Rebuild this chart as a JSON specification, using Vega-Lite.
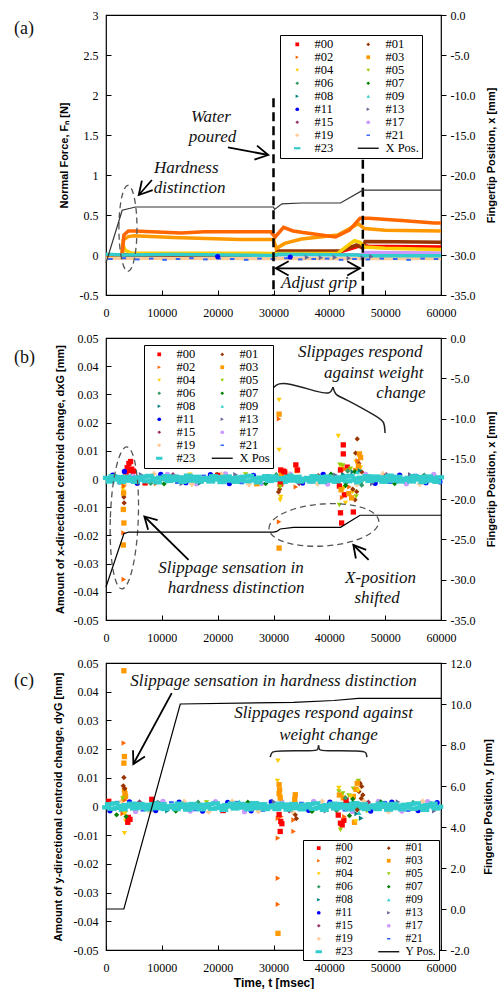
{
"$schema": "https://vega.github.io/schema/vega-lite/v6.json",
"padding": {"left": 13, "top": 8, "right": 2, "bottom": 0},
"spacing": 12,
"config": {
 "view": {"stroke": "#000", "strokeWidth": 1.2},
 "axis": {"labelFont": "Liberation Serif", "labelFontSize": 12, "labelColor": "#000", "titleFont": "Liberation Sans", "titleFontSize": 11, "titleFontWeight": "bold", "titleColor": "#000", "grid": false, "domain": false, "tickColor": "#000", "labelFlush": false, "labelOverlap": false, "titlePadding": 10},
 "text": {"font": "Liberation Serif", "fontSize": 17, "fontStyle": "italic", "color": "#111"},
 "point": {"opacity": 1}
},
"datasets": {
 "a_f": [
  {"s":"#19","t":0,"v":-0.04},{"s":"#19","t":60000,"v":-0.045},
  {"s":"#17","t":0,"v":0},{"s":"#17","t":46000,"v":0.005},{"s":"#17","t":46500,"v":0.03},{"s":"#17","t":60000,"v":0.025},
  {"s":"#00","t":0,"v":0},{"s":"#00","t":30500,"v":0},{"s":"#00","t":31000,"v":0.03},{"s":"#00","t":40000,"v":0.035},{"s":"#00","t":42000,"v":0.04},{"s":"#00","t":45800,"v":0.12},{"s":"#00","t":47000,"v":0.11},{"s":"#00","t":60000,"v":0.1},
  {"s":"#01","t":0,"v":0},{"s":"#01","t":30300,"v":0},{"s":"#01","t":30600,"v":0.05},{"s":"#01","t":42000,"v":0.05},{"s":"#01","t":44900,"v":0.125},{"s":"#01","t":46000,"v":0.085},{"s":"#01","t":46400,"v":0.17},{"s":"#01","t":52000,"v":0.165},{"s":"#01","t":60000,"v":0.16},
  {"s":"#04","t":0,"v":0},{"s":"#04","t":2900,"v":0},{"s":"#04","t":3100,"v":0.12},{"s":"#04","t":3400,"v":0.06},{"s":"#04","t":4500,"v":0.025},{"s":"#04","t":30000,"v":0.02},{"s":"#04","t":41500,"v":0.02},{"s":"#04","t":43500,"v":0.13},{"s":"#04","t":44500,"v":0.18},{"s":"#04","t":45500,"v":0.16},{"s":"#04","t":46300,"v":0.1},{"s":"#04","t":50000,"v":0.085},{"s":"#04","t":60000,"v":0.07},
  {"s":"#03","t":0,"v":0},{"s":"#03","t":2800,"v":0},{"s":"#03","t":3100,"v":0.19},{"s":"#03","t":4000,"v":0.23},{"s":"#03","t":5000,"v":0.24},{"s":"#03","t":12000,"v":0.22},{"s":"#03","t":24000,"v":0.195},{"s":"#03","t":30000,"v":0.195},{"s":"#03","t":30500,"v":0.08},{"s":"#03","t":32000,"v":0.145},{"s":"#03","t":35000,"v":0.2},{"s":"#03","t":41500,"v":0.25},{"s":"#03","t":45200,"v":0.39},{"s":"#03","t":46300,"v":0.33},{"s":"#03","t":50000,"v":0.31},{"s":"#03","t":60000,"v":0.3},
  {"s":"#02","t":0,"v":0},{"s":"#02","t":2900,"v":0},{"s":"#02","t":3200,"v":0.25},{"s":"#02","t":4000,"v":0.3},{"s":"#02","t":5000,"v":0.3},{"s":"#02","t":13500,"v":0.275},{"s":"#02","t":17600,"v":0.29},{"s":"#02","t":29500,"v":0.29},{"s":"#02","t":30300,"v":0.225},{"s":"#02","t":31800,"v":0.345},{"s":"#02","t":33500,"v":0.3},{"s":"#02","t":35300,"v":0.28},{"s":"#02","t":41100,"v":0.225},{"s":"#02","t":43600,"v":0.31},{"s":"#02","t":45500,"v":0.46},{"s":"#02","t":47100,"v":0.46},{"s":"#02","t":52900,"v":0.43},{"s":"#02","t":58800,"v":0.4},{"s":"#02","t":60000,"v":0.4},
  {"s":"#23","t":0,"v":0.01},{"s":"#23","t":3000,"v":0},{"s":"#23","t":12000,"v":0.005},{"s":"#23","t":30000,"v":-0.005},{"s":"#23","t":31000,"v":0.01},{"s":"#23","t":45000,"v":0},{"s":"#23","t":46000,"v":-0.01},{"s":"#23","t":60000,"v":-0.01}
 ],
 "a_p": [
  {"s":"#21","t":800,"v":-0.05},{"s":"#21","t":3200,"v":-0.04},{"s":"#21","t":5600,"v":-0.055},{"s":"#21","t":8100,"v":-0.045},{"s":"#21","t":10500,"v":-0.06},{"s":"#21","t":12900,"v":-0.05},{"s":"#21","t":15300,"v":-0.04},{"s":"#21","t":17800,"v":-0.055},{"s":"#21","t":20200,"v":-0.045},{"s":"#21","t":22600,"v":-0.05},{"s":"#21","t":25100,"v":-0.06},{"s":"#21","t":27500,"v":-0.045},{"s":"#21","t":29900,"v":-0.05},{"s":"#21","t":32300,"v":-0.04},{"s":"#21","t":34800,"v":-0.055},{"s":"#21","t":37200,"v":-0.05},{"s":"#21","t":39600,"v":-0.045},{"s":"#21","t":42100,"v":-0.06},{"s":"#21","t":44500,"v":-0.05},{"s":"#21","t":46900,"v":-0.055},{"s":"#21","t":49400,"v":-0.045},{"s":"#21","t":51800,"v":-0.05},{"s":"#21","t":54200,"v":-0.06},{"s":"#21","t":56700,"v":-0.045},{"s":"#21","t":59100,"v":-0.05},
  {"s":"#13","t":36000,"v":-0.03},{"s":"#13","t":38500,"v":-0.035},{"s":"#13","t":41000,"v":-0.03},{"s":"#13","t":43500,"v":-0.04},{"s":"#13","t":46000,"v":-0.035},{"s":"#13","t":47500,"v":-0.02},
  {"s":"#11","t":20000,"v":-0.02},{"s":"#11","t":33000,"v":-0.025}
 ],
 "a_x": [{"t":0,"p":-31.0},{"t":2900,"p":-24.4},{"t":5300,"p":-24.0},{"t":30000,"p":-24.0},{"t":30200,"p":-24.3},{"t":31500,"p":-23.6},{"t":35000,"p":-23.5},{"t":42000,"p":-23.5},{"t":46000,"p":-21.9},{"t":60000,"p":-21.9}],
 "b_x": [{"t":0,"p":-30.9},{"t":3200,"p":-24.3},{"t":4000,"p":-24.1},{"t":30000,"p":-24.1},{"t":30600,"p":-24.0},{"t":31200,"p":-23.7},{"t":33600,"p":-23.5},{"t":42000,"p":-23.5},{"t":45500,"p":-22.0},{"t":60000,"p":-22.0}],
 "c_x": [{"t":0,"p":0},{"t":3200,"p":0},{"t":13300,"p":10.0},{"t":33600,"p":10.08},{"t":40800,"p":10.17},{"t":45200,"p":10.27},{"t":60000,"p":10.27}],
 "b_p": [
  {"s":"#11","t":1200,"v":0.0014},{"s":"#11","t":5600,"v":-0.0015},{"s":"#11","t":9800,"v":0.0016},{"s":"#11","t":14300,"v":-0.0013},{"s":"#11","t":18700,"v":0.0015},{"s":"#11","t":22100,"v":-0.0016},{"s":"#11","t":26400,"v":0.0013},{"s":"#11","t":35200,"v":-0.0014},{"s":"#11","t":38900,"v":0.0016},{"s":"#11","t":48200,"v":-0.0015},{"s":"#11","t":52600,"v":0.0014},{"s":"#11","t":57300,"v":-0.0013},{"s":"#11","t":59800,"v":-0.001},
  {"s":"#21","t":2600,"v":-0.0016},{"s":"#21","t":7400,"v":0.0013},{"s":"#21","t":12800,"v":-0.0014},{"s":"#21","t":17500,"v":0.0012},{"s":"#21","t":24300,"v":-0.0015},{"s":"#21","t":29000,"v":0.0014},{"s":"#21","t":36800,"v":-0.0012},{"s":"#21","t":43700,"v":0.0012},{"s":"#21","t":50900,"v":-0.0014},{"s":"#21","t":55400,"v":0.0015},
  {"s":"#17","t":4800,"v":0.0017},{"s":"#17","t":11000,"v":0.0016},{"s":"#17","t":16200,"v":-0.0017},{"s":"#17","t":21400,"v":0.0018},{"s":"#17","t":27800,"v":-0.0016},{"s":"#17","t":33000,"v":0.0017},{"s":"#17","t":39700,"v":-0.0018},{"s":"#17","t":46500,"v":0.0016},{"s":"#17","t":53800,"v":-0.0017},{"s":"#17","t":58700,"v":0.0016},
  {"s":"#19","t":3300,"v":-0.0019},{"s":"#19","t":8600,"v":0.0018},{"s":"#19","t":15400,"v":-0.0018},{"s":"#19","t":20700,"v":0.0017},{"s":"#19","t":25600,"v":-0.0019},{"s":"#19","t":32500,"v":0.0019},{"s":"#19","t":37900,"v":-0.0017},{"s":"#19","t":44900,"v":-0.0019},{"s":"#19","t":49600,"v":0.0018},{"s":"#19","t":56200,"v":-0.0018},
  {"s":"#13","t":6300,"v":0.0015},{"s":"#13","t":13600,"v":-0.0016},{"s":"#13","t":23200,"v":0.0015},{"s":"#13","t":31800,"v":-0.0015},{"s":"#13","t":41100,"v":0.0014},{"s":"#13","t":47700,"v":-0.0016},{"s":"#13","t":54500,"v":0.0015},
  {"s":"#07","t":10400,"v":-0.0017},{"s":"#07","t":19900,"v":0.0016},{"s":"#07","t":28600,"v":-0.0016},{"s":"#07","t":40300,"v":0.0017},{"s":"#07","t":51700,"v":-0.0016},
  {"s":"#06","t":8000,"v":-0.0015},{"s":"#06","t":30500,"v":0.0015},{"s":"#06","t":43000,"v":-0.0014},{"s":"#06","t":57000,"v":0.0014},
  {"s":"#15","t":12000,"v":0.0015},{"s":"#15","t":34600,"v":-0.0016},{"s":"#15","t":50200,"v":0.0015},
  {"s":"#08","t":16900,"v":-0.0014},{"s":"#08","t":42500,"v":0.0016},
  {"s":"#05","t":25000,"v":0.0016},{"s":"#05","t":45800,"v":-0.0013},
  {"s":"#00","t":7000,"v":-0.0014},{"s":"#00","t":20000,"v":0.0013},
  {"s":"#02","t":9000,"v":-0.0016},{"s":"#04","t":15000,"v":0.0015},{"s":"#03","t":27000,"v":-0.0017},{"s":"#01","t":38000,"v":0.0012},
  {"s":"#23","t":250,"v":0.0004},{"s":"#23","t":750,"v":-0.0009},{"s":"#23","t":1250,"v":0.001},{"s":"#23","t":1750,"v":-0.0002},{"s":"#23","t":2250,"v":0.0007},{"s":"#23","t":2750,"v":-0.0011},{"s":"#23","t":3250,"v":0.0001},{"s":"#23","t":3750,"v":0.0009},{"s":"#23","t":4250,"v":-0.0006},{"s":"#23","t":4750,"v":0.0003},{"s":"#23","t":5250,"v":-0.001},{"s":"#23","t":5750,"v":0.0006},
  {"s":"#23","t":6250,"v":-0.0003},{"s":"#23","t":6750,"v":0.0008},{"s":"#23","t":7250,"v":-0.0008},{"s":"#23","t":7750,"v":0.0011},{"s":"#23","t":8250,"v":-0.0005},{"s":"#23","t":8750,"v":0.0002},{"s":"#23","t":9250,"v":-0.0012},{"s":"#23","t":9750,"v":0.0005},{"s":"#23","t":10250,"v":0},{"s":"#23","t":10750,"v":0.001},{"s":"#23","t":11250,"v":-0.0007},{"s":"#23","t":11750,"v":-0.0001},
  {"s":"#23","t":12250,"v":0.0009},{"s":"#23","t":12750,"v":-0.0004},{"s":"#23","t":13250,"v":0.0006},{"s":"#23","t":13750,"v":-0.001},{"s":"#23","t":14250,"v":-0.0001},{"s":"#23","t":14750,"v":0.0012},{"s":"#23","t":15250,"v":-0.0006},{"s":"#23","t":15750,"v":0.0003},{"s":"#23","t":16250,"v":0.0008},{"s":"#23","t":16750,"v":-0.0009},{"s":"#23","t":17250,"v":0.0001},{"s":"#23","t":17750,"v":-0.0003},
  {"s":"#23","t":18250,"v":0.0004},{"s":"#23","t":18750,"v":-0.0009},{"s":"#23","t":19250,"v":0.001},{"s":"#23","t":19750,"v":-0.0002},{"s":"#23","t":20250,"v":0.0007},{"s":"#23","t":20750,"v":-0.0011},{"s":"#23","t":21250,"v":0.0001},{"s":"#23","t":21750,"v":0.0009},{"s":"#23","t":22250,"v":-0.0006},{"s":"#23","t":22750,"v":0.0003},{"s":"#23","t":23250,"v":-0.001},{"s":"#23","t":23750,"v":0.0006},
  {"s":"#23","t":24250,"v":-0.0003},{"s":"#23","t":24750,"v":0.0008},{"s":"#23","t":25250,"v":-0.0008},{"s":"#23","t":25750,"v":0.0011},{"s":"#23","t":26250,"v":-0.0005},{"s":"#23","t":26750,"v":0.0002},{"s":"#23","t":27250,"v":-0.0012},{"s":"#23","t":27750,"v":0.0005},{"s":"#23","t":28250,"v":0},{"s":"#23","t":28750,"v":0.001},{"s":"#23","t":29250,"v":-0.0007},{"s":"#23","t":29750,"v":-0.0001},
  {"s":"#23","t":30250,"v":0.0009},{"s":"#23","t":30750,"v":-0.0004},{"s":"#23","t":31250,"v":0.0006},{"s":"#23","t":31750,"v":-0.001},{"s":"#23","t":32250,"v":-0.0001},{"s":"#23","t":32750,"v":0.0012},{"s":"#23","t":33250,"v":-0.0006},{"s":"#23","t":33750,"v":0.0003},{"s":"#23","t":34250,"v":0.0008},{"s":"#23","t":34750,"v":-0.0009},{"s":"#23","t":35250,"v":0.0001},{"s":"#23","t":35750,"v":-0.0003},
  {"s":"#23","t":36250,"v":0.0004},{"s":"#23","t":36750,"v":-0.0009},{"s":"#23","t":37250,"v":0.001},{"s":"#23","t":37750,"v":-0.0002},{"s":"#23","t":38250,"v":0.0007},{"s":"#23","t":38750,"v":-0.0011},{"s":"#23","t":39250,"v":0.0001},{"s":"#23","t":39750,"v":0.0009},{"s":"#23","t":40250,"v":-0.0006},{"s":"#23","t":40750,"v":0.0003},{"s":"#23","t":41250,"v":-0.001},{"s":"#23","t":41750,"v":0.0006},
  {"s":"#23","t":42250,"v":-0.0003},{"s":"#23","t":42750,"v":0.0008},{"s":"#23","t":43250,"v":-0.0008},{"s":"#23","t":43750,"v":0.0011},{"s":"#23","t":44250,"v":-0.0005},{"s":"#23","t":44750,"v":0.0002},{"s":"#23","t":45250,"v":-0.0012},{"s":"#23","t":45750,"v":0.0005},{"s":"#23","t":46250,"v":0},{"s":"#23","t":46750,"v":0.001},{"s":"#23","t":47250,"v":-0.0007},{"s":"#23","t":47750,"v":-0.0001},
  {"s":"#23","t":48250,"v":0.0009},{"s":"#23","t":48750,"v":-0.0004},{"s":"#23","t":49250,"v":0.0006},{"s":"#23","t":49750,"v":-0.001},{"s":"#23","t":50250,"v":-0.0001},{"s":"#23","t":50750,"v":0.0012},{"s":"#23","t":51250,"v":-0.0006},{"s":"#23","t":51750,"v":0.0003},{"s":"#23","t":52250,"v":0.0008},{"s":"#23","t":52750,"v":-0.0009},{"s":"#23","t":53250,"v":0.0001},{"s":"#23","t":53750,"v":-0.0003},
  {"s":"#23","t":54250,"v":0.0004},{"s":"#23","t":54750,"v":-0.0009},{"s":"#23","t":55250,"v":0.001},{"s":"#23","t":55750,"v":-0.0002},{"s":"#23","t":56250,"v":0.0007},{"s":"#23","t":56750,"v":-0.0011},{"s":"#23","t":57250,"v":0.0001},{"s":"#23","t":57750,"v":0.0009},{"s":"#23","t":58250,"v":-0.0006},{"s":"#23","t":58750,"v":0.0003},{"s":"#23","t":59250,"v":-0.001},{"s":"#23","t":59750,"v":0.0006},
  {"s":"#00","t":3800,"v":0.004},{"s":"#00","t":4100,"v":0.0055},{"s":"#00","t":4400,"v":0.0062},{"s":"#00","t":4600,"v":0.0035},{"s":"#00","t":4900,"v":0.0028},{"s":"#00","t":3600,"v":0.0025},{"s":"#00","t":4200,"v":0.003},
  {"s":"#11","t":3300,"v":0.0027},
  {"s":"#04","t":3100,"v":-0.0028},{"s":"#04","t":3150,"v":-0.0045},{"s":"#04","t":3200,"v":-0.011},{"s":"#04","t":3050,"v":-0.0035},
  {"s":"#01","t":3200,"v":-0.0064},{"s":"#01","t":3250,"v":-0.0085},{"s":"#01","t":3150,"v":-0.0052},
  {"s":"#02","t":3150,"v":-0.0191},{"s":"#02","t":3200,"v":-0.0356},{"s":"#02","t":3250,"v":-0.0025},
  {"s":"#03","t":3100,"v":-0.0234},{"s":"#03","t":3200,"v":-0.0156},{"s":"#03","t":3100,"v":-0.0108},{"s":"#03","t":3150,"v":-0.005},
  {"s":"#04","t":31000,"v":0.028},{"s":"#04","t":31000,"v":0.0103},{"s":"#04","t":31300,"v":-0.0064},{"s":"#04","t":31200,"v":-0.0075},{"s":"#04","t":31100,"v":-0.003},
  {"s":"#03","t":31000,"v":0.023},{"s":"#03","t":31000,"v":-0.0245},{"s":"#03","t":31400,"v":0.002},{"s":"#03","t":34200,"v":0.003},
  {"s":"#02","t":31000,"v":0.0213},{"s":"#02","t":31000,"v":-0.0152},{"s":"#02","t":34000,"v":-0.0028},{"s":"#02","t":31500,"v":-0.0022},
  {"s":"#00","t":31300,"v":0.0032},{"s":"#00","t":31800,"v":0.0028},{"s":"#00","t":34000,"v":0.005},{"s":"#00","t":34300,"v":0.0032},{"s":"#00","t":32000,"v":0.0025},{"s":"#00","t":31200,"v":-0.0018},
  {"s":"#01","t":30900,"v":-0.0046},{"s":"#01","t":31100,"v":-0.0036},{"s":"#05","t":31200,"v":-0.0028},
  {"s":"#04","t":41600,"v":0.0152},{"s":"#04","t":42300,"v":0.0045},{"s":"#04","t":42600,"v":-0.0032},{"s":"#04","t":42900,"v":-0.0085},{"s":"#04","t":44800,"v":0.006},{"s":"#04","t":45600,"v":0.004},{"s":"#04","t":42000,"v":0.0035},{"s":"#04","t":44200,"v":-0.0046},
  {"s":"#00","t":42500,"v":0.0121},{"s":"#00","t":42500,"v":0.0089},{"s":"#00","t":42000,"v":0.0032},{"s":"#00","t":43200,"v":0.0042},{"s":"#00","t":44300,"v":-0.0117},{"s":"#00","t":42200,"v":-0.0156},{"s":"#00","t":42000,"v":-0.012},{"s":"#00","t":42700,"v":-0.0056},{"s":"#00","t":41800,"v":-0.0025},
  {"s":"#01","t":45000,"v":0.0142},{"s":"#01","t":44700,"v":0.0092},{"s":"#01","t":45300,"v":0.0055},{"s":"#01","t":45800,"v":0.0025},{"s":"#01","t":44600,"v":-0.0074},{"s":"#01","t":44900,"v":-0.0045},{"s":"#01","t":44200,"v":-0.0036},
  {"s":"#03","t":45400,"v":0.0089},{"s":"#03","t":45600,"v":0.0076},{"s":"#03","t":45200,"v":0.0046},{"s":"#03","t":43500,"v":-0.0052},{"s":"#03","t":44000,"v":-0.0067},{"s":"#03","t":42100,"v":-0.0038},{"s":"#03","t":44700,"v":0.003},
  {"s":"#05","t":41900,"v":0.005},{"s":"#05","t":42400,"v":0.0048},{"s":"#05","t":43100,"v":0.003},{"s":"#05","t":41800,"v":-0.0092},{"s":"#05","t":44800,"v":-0.0062},{"s":"#05","t":43800,"v":0.0036},
  {"s":"#02","t":42800,"v":0.0035},{"s":"#02","t":43600,"v":-0.0028},{"s":"#02","t":45100,"v":0.0065},{"s":"#02","t":42300,"v":-0.0066},
  {"s":"#08","t":45500,"v":0.003},{"s":"#08","t":44200,"v":0.0025},{"s":"#06","t":43300,"v":0.0028},{"s":"#06","t":45800,"v":-0.0022},{"s":"#07","t":44600,"v":0.0026},{"s":"#07","t":42900,"v":-0.0023},{"s":"#09","t":45000,"v":0.0025}
 ],
 "c_p": [
  {"s":"#11","t":700,"v":-0.0015},{"s":"#11","t":4200,"v":0.0016},{"s":"#11","t":8900,"v":-0.0014},{"s":"#11","t":13100,"v":0.0015},{"s":"#11","t":17300,"v":-0.0016},{"s":"#11","t":21800,"v":0.0014},{"s":"#11","t":26000,"v":-0.0015},{"s":"#11","t":29600,"v":0.0016},{"s":"#11","t":36300,"v":-0.0013},{"s":"#11","t":40100,"v":0.0015},{"s":"#11","t":47400,"v":-0.0016},{"s":"#11","t":51200,"v":0.0015},{"s":"#11","t":55900,"v":-0.0014},{"s":"#11","t":59300,"v":0.0013},
  {"s":"#21","t":2000,"v":0.0016},{"s":"#21","t":6600,"v":-0.0014},{"s":"#21","t":11700,"v":0.0015},{"s":"#21","t":16000,"v":-0.0013},{"s":"#21","t":23400,"v":0.0016},{"s":"#21","t":28100,"v":-0.0015},{"s":"#21","t":35000,"v":0.0013},{"s":"#21","t":42800,"v":-0.0014},{"s":"#21","t":49900,"v":0.0016},{"s":"#21","t":54100,"v":-0.0015},{"s":"#21","t":58000,"v":0.0014},
  {"s":"#17","t":5300,"v":-0.0017},{"s":"#17","t":10200,"v":0.0018},{"s":"#17","t":15100,"v":-0.0016},{"s":"#17","t":19600,"v":0.0017},{"s":"#17","t":24800,"v":-0.0018},{"s":"#17","t":31500,"v":0.0016},{"s":"#17","t":37200,"v":0.0018},{"s":"#17","t":44100,"v":-0.0017},{"s":"#17","t":48800,"v":0.0018},{"s":"#17","t":53000,"v":-0.0016},{"s":"#17","t":57600,"v":0.0017},
  {"s":"#19","t":2800,"v":0.0019},{"s":"#19","t":7900,"v":-0.0018},{"s":"#19","t":14000,"v":0.0017},{"s":"#19","t":18400,"v":-0.0019},{"s":"#19","t":22600,"v":0.0018},{"s":"#19","t":27300,"v":-0.0017},{"s":"#19","t":33400,"v":-0.0019},{"s":"#19","t":38700,"v":0.0018},{"s":"#19","t":46200,"v":0.0019},{"s":"#19","t":50600,"v":-0.0018},{"s":"#19","t":56700,"v":0.0018},
  {"s":"#13","t":9500,"v":0.0015},{"s":"#13","t":20900,"v":-0.0015},{"s":"#13","t":30100,"v":0.0016},{"s":"#13","t":39400,"v":-0.0015},{"s":"#13","t":52300,"v":0.0016},{"s":"#13","t":58800,"v":-0.0015},
  {"s":"#07","t":12500,"v":-0.0016},{"s":"#07","t":25400,"v":0.0015},{"s":"#07","t":36900,"v":-0.0017},{"s":"#07","t":49200,"v":0.0016},
  {"s":"#06","t":16500,"v":0.0015},{"s":"#06","t":41300,"v":-0.0015},{"s":"#06","t":55000,"v":0.0014},
  {"s":"#15","t":6000,"v":0.0016},{"s":"#15","t":32800,"v":-0.0015},{"s":"#15","t":47000,"v":0.0015},
  {"s":"#08","t":11000,"v":-0.0015},{"s":"#08","t":43400,"v":0.0014},{"s":"#09","t":23900,"v":0.0016},
  {"s":"#00","t":500,"v":0.0018},{"s":"#00","t":21000,"v":-0.0014},
  {"s":"#05","t":18000,"v":0.0014},{"s":"#05","t":46700,"v":-0.0016},
  {"s":"#23","t":100,"v":-0.0003},{"s":"#23","t":600,"v":0.0008},{"s":"#23","t":1100,"v":-0.0008},{"s":"#23","t":1600,"v":0.0011},{"s":"#23","t":2100,"v":-0.0005},{"s":"#23","t":2600,"v":0.0002},{"s":"#23","t":3100,"v":-0.0012},{"s":"#23","t":3600,"v":0.0005},{"s":"#23","t":4100,"v":0},{"s":"#23","t":4600,"v":0.001},{"s":"#23","t":5100,"v":-0.0007},{"s":"#23","t":5600,"v":-0.0001},
  {"s":"#23","t":6100,"v":0.0009},{"s":"#23","t":6600,"v":-0.0004},{"s":"#23","t":7100,"v":0.0006},{"s":"#23","t":7600,"v":-0.001},{"s":"#23","t":8100,"v":-0.0001},{"s":"#23","t":8600,"v":0.0012},{"s":"#23","t":9100,"v":-0.0006},{"s":"#23","t":9600,"v":0.0003},{"s":"#23","t":10100,"v":0.0008},{"s":"#23","t":10600,"v":-0.0009},{"s":"#23","t":11100,"v":0.0001},{"s":"#23","t":11600,"v":-0.0003},
  {"s":"#23","t":12100,"v":0.0004},{"s":"#23","t":12600,"v":-0.0009},{"s":"#23","t":13100,"v":0.001},{"s":"#23","t":13600,"v":-0.0002},{"s":"#23","t":14100,"v":0.0007},{"s":"#23","t":14600,"v":-0.0011},{"s":"#23","t":15100,"v":0.0001},{"s":"#23","t":15600,"v":0.0009},{"s":"#23","t":16100,"v":-0.0006},{"s":"#23","t":16600,"v":0.0003},{"s":"#23","t":17100,"v":-0.001},{"s":"#23","t":17600,"v":0.0006},
  {"s":"#23","t":18100,"v":-0.0003},{"s":"#23","t":18600,"v":0.0008},{"s":"#23","t":19100,"v":-0.0008},{"s":"#23","t":19600,"v":0.0011},{"s":"#23","t":20100,"v":-0.0005},{"s":"#23","t":20600,"v":0.0002},{"s":"#23","t":21100,"v":-0.0012},{"s":"#23","t":21600,"v":0.0005},{"s":"#23","t":22100,"v":0},{"s":"#23","t":22600,"v":0.001},{"s":"#23","t":23100,"v":-0.0007},{"s":"#23","t":23600,"v":-0.0001},
  {"s":"#23","t":24100,"v":0.0009},{"s":"#23","t":24600,"v":-0.0004},{"s":"#23","t":25100,"v":0.0006},{"s":"#23","t":25600,"v":-0.001},{"s":"#23","t":26100,"v":-0.0001},{"s":"#23","t":26600,"v":0.0012},{"s":"#23","t":27100,"v":-0.0006},{"s":"#23","t":27600,"v":0.0003},{"s":"#23","t":28100,"v":0.0008},{"s":"#23","t":28600,"v":-0.0009},{"s":"#23","t":29100,"v":0.0001},{"s":"#23","t":29600,"v":-0.0003},
  {"s":"#23","t":30100,"v":0.0004},{"s":"#23","t":30600,"v":-0.0009},{"s":"#23","t":31100,"v":0.001},{"s":"#23","t":31600,"v":-0.0002},{"s":"#23","t":32100,"v":0.0007},{"s":"#23","t":32600,"v":-0.0011},{"s":"#23","t":33100,"v":0.0001},{"s":"#23","t":33600,"v":0.0009},{"s":"#23","t":34100,"v":-0.0006},{"s":"#23","t":34600,"v":0.0003},{"s":"#23","t":35100,"v":-0.001},{"s":"#23","t":35600,"v":0.0006},
  {"s":"#23","t":36100,"v":-0.0003},{"s":"#23","t":36600,"v":0.0008},{"s":"#23","t":37100,"v":-0.0008},{"s":"#23","t":37600,"v":0.0011},{"s":"#23","t":38100,"v":-0.0005},{"s":"#23","t":38600,"v":0.0002},{"s":"#23","t":39100,"v":-0.0012},{"s":"#23","t":39600,"v":0.0005},{"s":"#23","t":40100,"v":0},{"s":"#23","t":40600,"v":0.001},{"s":"#23","t":41100,"v":-0.0007},{"s":"#23","t":41600,"v":-0.0001},
  {"s":"#23","t":42100,"v":0.0009},{"s":"#23","t":42600,"v":-0.0004},{"s":"#23","t":43100,"v":0.0006},{"s":"#23","t":43600,"v":-0.001},{"s":"#23","t":44100,"v":-0.0001},{"s":"#23","t":44600,"v":0.0012},{"s":"#23","t":45100,"v":-0.0006},{"s":"#23","t":45600,"v":0.0003},{"s":"#23","t":46100,"v":0.0008},{"s":"#23","t":46600,"v":-0.0009},{"s":"#23","t":47100,"v":0.0001},{"s":"#23","t":47600,"v":-0.0003},
  {"s":"#23","t":48100,"v":0.0004},{"s":"#23","t":48600,"v":-0.0009},{"s":"#23","t":49100,"v":0.001},{"s":"#23","t":49600,"v":-0.0002},{"s":"#23","t":50100,"v":0.0007},{"s":"#23","t":50600,"v":-0.0011},{"s":"#23","t":51100,"v":0.0001},{"s":"#23","t":51600,"v":0.0009},{"s":"#23","t":52100,"v":-0.0006},{"s":"#23","t":52600,"v":0.0003},{"s":"#23","t":53100,"v":-0.001},{"s":"#23","t":53600,"v":0.0006},
  {"s":"#23","t":54100,"v":-0.0003},{"s":"#23","t":54600,"v":0.0008},{"s":"#23","t":55100,"v":-0.0008},{"s":"#23","t":55600,"v":0.0011},{"s":"#23","t":56100,"v":-0.0005},{"s":"#23","t":56600,"v":0.0002},{"s":"#23","t":57100,"v":-0.0012},{"s":"#23","t":57600,"v":0.0005},{"s":"#23","t":58100,"v":0},{"s":"#23","t":58600,"v":0.001},{"s":"#23","t":59100,"v":-0.0007},{"s":"#23","t":59600,"v":-0.0001},
  {"s":"#03","t":3200,"v":0.0473},{"s":"#03","t":3300,"v":0.0174},{"s":"#03","t":3200,"v":0.0151},{"s":"#03","t":3300,"v":0.0058},{"s":"#03","t":3400,"v":0.0045},{"s":"#03","t":3250,"v":0.0029},{"s":"#03","t":3500,"v":0.0035},
  {"s":"#02","t":3200,"v":0.0221},{"s":"#02","t":3400,"v":0.0022},{"s":"#02","t":3000,"v":-0.0025},
  {"s":"#01","t":3200,"v":0.0101},{"s":"#01","t":3100,"v":0.0072},{"s":"#01","t":3350,"v":0.0062},
  {"s":"#04","t":3500,"v":-0.005},{"s":"#04","t":3300,"v":-0.0093},{"s":"#04","t":3800,"v":-0.0042},{"s":"#04","t":3400,"v":-0.0025},
  {"s":"#00","t":4000,"v":-0.0038},{"s":"#00","t":4300,"v":-0.0045},{"s":"#00","t":3900,"v":-0.0055},{"s":"#00","t":8200,"v":0.0025},
  {"s":"#07","t":1900,"v":-0.0029},{"s":"#07","t":3600,"v":-0.0035},{"s":"#05","t":3000,"v":0.0028},
  {"s":"#04","t":30800,"v":0.0159},{"s":"#04","t":30700,"v":0.0089},{"s":"#04","t":31300,"v":0.0035},
  {"s":"#03","t":31000,"v":0.0076},{"s":"#03","t":31100,"v":0.0058},{"s":"#03","t":31000,"v":0.0045},{"s":"#03","t":31200,"v":0.0029},{"s":"#03","t":30800,"v":-0.0442},{"s":"#03","t":33900,"v":0.0041},{"s":"#03","t":33800,"v":0.0025},
  {"s":"#02","t":30800,"v":-0.0041},{"s":"#02","t":30800,"v":-0.011},{"s":"#02","t":30800,"v":-0.025},{"s":"#02","t":30800,"v":-0.0341},{"s":"#02","t":33600,"v":-0.0087},{"s":"#02","t":33600,"v":-0.0047},{"s":"#02","t":31400,"v":-0.0035},
  {"s":"#00","t":31200,"v":-0.0087},{"s":"#00","t":31300,"v":-0.0052},{"s":"#00","t":31000,"v":-0.0028},{"s":"#00","t":31500,"v":-0.006},
  {"s":"#01","t":33900,"v":-0.0029},{"s":"#01","t":34100,"v":-0.0042},
  {"s":"#05","t":45200,"v":0.0089},{"s":"#05","t":41700,"v":0.0052},{"s":"#05","t":42400,"v":0.0045},{"s":"#05","t":43500,"v":0.0038},{"s":"#05","t":42000,"v":-0.0081},{"s":"#05","t":44300,"v":0.0062},{"s":"#05","t":41900,"v":-0.0062},
  {"s":"#01","t":45500,"v":0.0081},{"s":"#01","t":45800,"v":0.007},{"s":"#01","t":45300,"v":0.0052},{"s":"#01","t":46000,"v":0.004},{"s":"#01","t":45000,"v":-0.0012},{"s":"#01","t":45700,"v":0.0028},
  {"s":"#03","t":45000,"v":0.0081},{"s":"#03","t":44800,"v":0.006},{"s":"#03","t":44300,"v":0.0035},{"s":"#03","t":42500,"v":0.003},{"s":"#03","t":44500,"v":-0.0055},{"s":"#03","t":41800,"v":0.004},
  {"s":"#04","t":41700,"v":0.0064},{"s":"#04","t":43900,"v":0.0035},{"s":"#04","t":44700,"v":-0.0052},{"s":"#04","t":45200,"v":0.0055},{"s":"#04","t":42800,"v":0.0025},
  {"s":"#00","t":42300,"v":-0.0064},{"s":"#00","t":42000,"v":-0.0058},{"s":"#00","t":42600,"v":-0.0048},{"s":"#00","t":41600,"v":-0.003},{"s":"#00","t":43000,"v":0.0022},
  {"s":"#08","t":45700,"v":-0.0041},{"s":"#08","t":44900,"v":-0.0025},{"s":"#07","t":43600,"v":-0.0032},{"s":"#07","t":44200,"v":0.0026},{"s":"#06","t":42900,"v":0.003},{"s":"#09","t":45300,"v":-0.0022},{"s":"#02","t":42700,"v":-0.0035}
 ]
},
"vconcat": [
 {
  "width": 335, "height": 280,
  "encoding": {"x": {"field": "t", "type": "quantitative", "scale": {"domain": [0, 60000], "nice": false}, "axis": {"values": [0,10000,20000,30000,40000,50000,60000], "format": "d", "title": null, "tickSize": -5, "labelPadding": 17}}},
  "layer": [
   {
    "encoding": {"y": {"field": "v", "type": "quantitative", "scale": {"domain": [-0.5, 3], "nice": false, "zero": false}, "axis": {"values": [-0.5,0,0.5,1,1.5,2,2.5,3], "format": "~g", "labelExpr": "replace(datum.label, '−', '-')", "title": "Normal Force,  Fₙ [N]", "tickSize": -5, "labelPadding": 13}}},
    "layer": [
     {"data": {"name": "a_f"}, "mark": {"type": "line", "strokeWidth": 3.5}, "encoding": {"stroke": {"field": "s", "type": "nominal", "scale": {"domain": ["#19","#17","#00","#01","#04","#03","#02","#23"], "range": ["#ffcc99","#cc99ff","#ff0000","#993300","#ffcc00","#ff9900","#ff6600","#33cccc"]}, "legend": null}}},
     {"data": {"name": "a_p"}, "mark": {"type": "point", "filled": true, "size": 26, "opacity": 1},
      "encoding": {
       "color": {"field": "s", "type": "nominal", "scale": {"domain": ["#00","#01","#02","#03","#04","#05","#06","#07","#08","#09","#11","#13","#15","#17","#19","#21","#23","X Pos."], "range": ["#ff0000","#993300","#ff6600","#ff9900","#ffcc00","#99cc00","#339966","#008000","#008080","#33cccc","#0000ff","#666699","#993366","#cc99ff","#ffcc99","#3366ff","#33cccc","#000000"]}, "legend": {"title": null, "orient": "none", "legendX": 174, "legendY": 20, "columns": 2, "direction": "horizontal", "strokeColor": "#000", "fillColor": "#fff", "padding": 3, "labelFont": "Liberation Serif", "labelFontSize": 12.5, "labelColor": "#000", "symbolSize": 14, "symbolOffset": 8, "labelOffset": 11, "columnPadding": 20, "rowPadding": 0}},
       "shape": {"field": "s", "type": "nominal", "scale": {"domain": ["#00","#01","#02","#03","#04","#05","#06","#07","#08","#09","#11","#13","#15","#17","#19","#21","#23","X Pos."], "range": ["square","diamond","triangle-right","square","triangle-down","triangle-down","diamond","diamond","triangle-right","triangle-up","circle","triangle-right","diamond","circle","cross","M-0.9,-0.4H0.9V0.4H-0.9Z","M-1.7,-0.6H1.7V0.6H-1.7Z","M-5.6,-0.35H5.6V0.35H-5.6Z"]}, "legend": {"title": null, "orient": "none", "legendX": 174, "legendY": 20, "columns": 2, "direction": "horizontal", "strokeColor": "#000", "fillColor": "#fff", "padding": 3, "labelFont": "Liberation Serif", "labelFontSize": 12.5, "labelColor": "#000", "symbolSize": 14, "symbolOffset": 8, "labelOffset": 11, "columnPadding": 20, "rowPadding": 0}}
      }},
     {"data": {"values": [{"t": 30000, "v": 1.96, "v2": -0.5}, {"t": 46000, "v": 1.19, "v2": -0.5}]}, "mark": {"type": "rule", "color": "#000", "strokeWidth": 2.5, "strokeDash": [9, 5]}, "encoding": {"y2": {"field": "v2"}}},
     {"data": {"values": [{"g": "w", "t": 21839, "v": 1.346}, {"g": "w", "t": 29061, "v": 1.25}, {"g": "h", "t": 8219, "v": 0.9375}, {"g": "h", "t": 5871, "v": 0.75}, {"g": "j", "t": 30411, "v": -0.167}, {"g": "j", "t": 45499, "v": -0.167}]}, "mark": {"type": "line", "color": "#000", "strokeWidth": 1.8}, "encoding": {"detail": {"field": "g"}}},
     {"data": {"values": [{"t": 29061, "v": 1.25}]}, "mark": {"type": "point", "shape": "M-1.6,-0.9L0,0L-1.6,0.9", "size": 256, "filled": false, "color": "#000", "strokeWidth": 1.8, "opacity": 1, "angle": 10.6}},
     {"data": {"values": [{"t": 5871, "v": 0.75}]}, "mark": {"type": "point", "shape": "M-1.6,-0.9L0,0L-1.6,0.9", "size": 256, "filled": false, "color": "#000", "strokeWidth": 1.8, "opacity": 1, "angle": 131.6}},
     {"data": {"values": [{"t": 30411, "v": -0.167}]}, "mark": {"type": "point", "shape": "M-1.6,-0.9L0,0L-1.6,0.9", "size": 256, "filled": false, "color": "#000", "strokeWidth": 1.8, "opacity": 1, "angle": 180}},
     {"data": {"values": [{"t": 45499, "v": -0.167}]}, "mark": {"type": "point", "shape": "M-1.6,-0.9L0,0L-1.6,0.9", "size": 256, "filled": false, "color": "#000", "strokeWidth": 1.8, "opacity": 1, "angle": 0}},
     {"data": {"values": [{"t": 3933, "v": 0.333}]}, "mark": {"type": "point", "shape": "M-0.21,0C-0.21,-0.552,-0.116,-1,0,-1C0.116,-1,0.21,-0.552,0.21,0C0.21,0.552,0.116,1,0,1C-0.116,1,-0.21,0.552,-0.21,0Z", "size": 7396, "filled": false, "color": "#555", "strokeWidth": 1.3, "strokeDash": [6, 4], "opacity": 1}},
     {"data": {"values": [{"t": 18787, "v": 1.729, "txt": "Water"}, {"t": 19080, "v": 1.479, "txt": "poured"}, {"t": 14384, "v": 1.083, "txt": "Hardness"}, {"t": 14971, "v": 0.833, "txt": "distinction"}, {"t": 38160, "v": -0.354, "txt": "Adjust grip"}]}, "mark": {"type": "text", "align": "center", "baseline": "middle"}, "encoding": {"text": {"field": "txt"}}},
     {"data": {"values": [{"t": -16478, "v": 2.825, "txt": "(a)"}]}, "mark": {"type": "text", "align": "left", "baseline": "middle", "fontStyle": "normal", "fontSize": 18}, "encoding": {"text": {"field": "txt"}}}
    ]
   },
   {"data": {"name": "a_x"}, "mark": {"type": "line", "color": "#333", "strokeWidth": 1.2}, "encoding": {"y": {"field": "p", "type": "quantitative", "scale": {"domain": [-35, 0], "nice": false, "zero": false}, "axis": {"orient": "right", "values": [-35,-30,-25,-20,-15,-10,-5,0], "format": ".1f", "labelExpr": "replace(datum.label, '−', '-')", "title": "Fingertip Position,   x [mm]", "titleAngle": 270, "titleBaseline": "top", "tickSize": 5, "labelPadding": 4, "titlePadding": 11}}}}
  ],
  "resolve": {"scale": {"y": "independent"}}
 },
 {
  "width": 335, "height": 282,
  "encoding": {"x": {"field": "t", "type": "quantitative", "scale": {"domain": [0, 60000], "nice": false}, "axis": {"values": [0,10000,20000,30000,40000,50000,60000], "format": "d", "title": null, "tickSize": -5, "labelPadding": 17}}},
  "layer": [
   {
    "encoding": {"y": {"field": "v", "type": "quantitative", "scale": {"domain": [-0.05, 0.05], "nice": false, "zero": false}, "axis": {"values": [-0.05,-0.04,-0.03,-0.02,-0.01,0,0.01,0.02,0.03,0.04,0.05], "format": "~g", "labelExpr": "replace(datum.label, '−', '-')", "title": "Amount of x-directional centroid change, dxG [mm]", "tickSize": -5, "labelPadding": 13, "titlePadding": 8}}},
    "layer": [
     {"data": {"name": "b_p"}, "mark": {"type": "point", "filled": true, "size": 28, "opacity": 1},
      "encoding": {
       "color": {"field": "s", "type": "nominal", "scale": {"domain": ["#00","#01","#02","#03","#04","#05","#06","#07","#08","#09","#11","#13","#15","#17","#19","#21","#23","X Pos"], "range": ["#ff0000","#993300","#ff6600","#ff9900","#ffcc00","#99cc00","#339966","#008000","#008080","#33cccc","#0000ff","#666699","#993366","#cc99ff","#ffcc99","#3366ff","#33cccc","#000000"]}, "legend": {"title": null, "orient": "none", "legendX": 38, "legendY": 7, "columns": 2, "direction": "horizontal", "strokeColor": "#000", "fillColor": "#fff", "padding": 3, "labelFont": "Liberation Serif", "labelFontSize": 12.5, "labelColor": "#000", "symbolSize": 14, "symbolOffset": 6, "labelOffset": 11, "columnPadding": 14, "rowPadding": 0}},
       "shape": {"field": "s", "type": "nominal", "scale": {"domain": ["#00","#01","#02","#03","#04","#05","#06","#07","#08","#09","#11","#13","#15","#17","#19","#21","#23","X Pos"], "range": ["square","diamond","triangle-right","square","triangle-down","triangle-down","diamond","diamond","triangle-right","triangle-up","circle","triangle-right","diamond","circle","cross","M-0.9,-0.4H0.9V0.4H-0.9Z","M-1.7,-0.8H1.7V0.8H-1.7Z","M-5.6,-0.35H5.6V0.35H-5.6Z"]}, "legend": {"title": null, "orient": "none", "legendX": 38, "legendY": 7, "columns": 2, "direction": "horizontal", "strokeColor": "#000", "fillColor": "#fff", "padding": 3, "labelFont": "Liberation Serif", "labelFontSize": 12.5, "labelColor": "#000", "symbolSize": 14, "symbolOffset": 6, "labelOffset": 11, "columnPadding": 14, "rowPadding": 0}}
      }},
     {"data": {"values": [{"t": 3283, "v": -0.0138}]}, "mark": {"type": "point", "shape": "M-0.197,0C-0.197,-0.552,-0.109,-1,0,-1C0.109,-1,0.197,-0.552,0.197,0C0.197,0.552,0.109,1,0,1C-0.109,1,-0.197,0.552,-0.197,0Z", "size": 20164, "filled": false, "color": "#555", "strokeWidth": 1.3, "strokeDash": [6, 4], "opacity": 1, "angle": 2}},
     {"data": {"values": [{"t": 39027, "v": -0.0163}]}, "mark": {"type": "point", "shape": "M-1,0C-1,-0.211,-0.552,-0.382,0,-0.382C0.552,-0.382,1,-0.211,1,0C1,0.211,0.552,0.382,0,0.382C-0.552,0.382,-1,0.211,-1,0Z", "size": 12100, "filled": false, "color": "#555", "strokeWidth": 1.3, "strokeDash": [6, 4], "opacity": 1, "angle": -4}},
     {"data": {"values": [{"g": "s1", "t": 14787, "v": -0.0287}, {"g": "s1", "t": 6876, "v": -0.0133}, {"g": "s2", "t": 47039, "v": -0.0287}, {"g": "s2", "t": 44300, "v": -0.0234}]}, "mark": {"type": "line", "color": "#000", "strokeWidth": 1.8}, "encoding": {"detail": {"field": "g"}}},
     {"data": {"values": [{"t": 6876, "v": -0.0133}]}, "mark": {"type": "point", "shape": "M-1.6,-0.9L0,0L-1.6,0.9", "size": 225, "filled": false, "color": "#000", "strokeWidth": 1.8, "opacity": 1, "angle": -135}},
     {"data": {"values": [{"t": 44300, "v": -0.0234}]}, "mark": {"type": "point", "shape": "M-1.6,-0.9L0,0L-1.6,0.9", "size": 225, "filled": false, "color": "#000", "strokeWidth": 1.8, "opacity": 1, "angle": -130}},
     {"data": {"values": [{"g": "l", "t": 29362, "v": 0.0305}, {"g": "l", "t": 30300, "v": 0.0338}, {"g": "l", "t": 32500, "v": 0.0342}, {"g": "l", "t": 38500, "v": 0.0305}, {"g": "l", "t": 40200, "v": 0.0302}, {"g": "l", "t": 40669, "v": 0.0326}, {"g": "r", "t": 40669, "v": 0.0326}, {"g": "r", "t": 41000, "v": 0.0298}, {"g": "r", "t": 42500, "v": 0.0288}, {"g": "r", "t": 48500, "v": 0.0222}, {"g": "r", "t": 49900, "v": 0.0205}, {"g": "r", "t": 49970, "v": 0.0163}]}, "mark": {"type": "line", "interpolate": "basis", "color": "#222", "strokeWidth": 1.5}, "encoding": {"detail": {"field": "g"}}},
     {"data": {"values": [{"t": 45517, "v": 0.0449, "txt": "Slippages respond"}, {"t": 47951, "v": 0.0376, "txt": "against weight"}, {"t": 52819, "v": 0.0305, "txt": "change"}, {"t": 22394, "v": -0.0317, "txt": "Slippage sensation in"}, {"t": 23306, "v": -0.0388, "txt": "hardness distinction"}, {"t": 49168, "v": -0.0352, "txt": "X-position"}, {"t": 48560, "v": -0.0423, "txt": "shifted"}]}, "mark": {"type": "text", "align": "center", "baseline": "middle"}, "encoding": {"text": {"field": "txt"}}},
     {"data": {"values": [{"t": -16478, "v": 0.0429, "txt": "(b)"}]}, "mark": {"type": "text", "align": "left", "baseline": "middle", "fontStyle": "normal", "fontSize": 18}, "encoding": {"text": {"field": "txt"}}}
    ]
   },
   {"data": {"name": "b_x"}, "mark": {"type": "line", "color": "#000", "strokeWidth": 1.2}, "encoding": {"y": {"field": "p", "type": "quantitative", "scale": {"domain": [-35, 0], "nice": false, "zero": false}, "axis": {"orient": "right", "values": [-35,-30,-25,-20,-15,-10,-5,0], "format": ".1f", "labelExpr": "replace(datum.label, '−', '-')", "title": "Fingertip Position,   x [mm]", "titleAngle": 270, "titleBaseline": "top", "tickSize": 5, "labelPadding": 4, "titlePadding": 11}}}}
  ],
  "resolve": {"scale": {"y": "independent"}}
 },
 {
  "width": 335, "height": 287,
  "encoding": {"x": {"field": "t", "type": "quantitative", "scale": {"domain": [0, 60000], "nice": false}, "axis": {"values": [0,10000,20000,30000,40000,50000,60000], "format": "d", "title": "Time,  t [msec]", "titleFontSize": 12, "titlePadding": 4, "tickSize": -5, "labelPadding": 17}}},
  "layer": [
   {
    "encoding": {"y": {"field": "v", "type": "quantitative", "scale": {"domain": [-0.05, 0.05], "nice": false, "zero": false}, "axis": {"values": [-0.05,-0.04,-0.03,-0.02,-0.01,0,0.01,0.02,0.03,0.04,0.05], "format": "~g", "labelExpr": "replace(datum.label, '−', '-')", "title": "Amount of y-directional centroid change, dyG [mm]", "tickSize": -5, "labelPadding": 13, "titlePadding": 10}}},
    "layer": [
     {"data": {"name": "c_p"}, "mark": {"type": "point", "filled": true, "size": 28, "opacity": 1},
      "encoding": {
       "color": {"field": "s", "type": "nominal", "scale": {"domain": ["#00","#01","#02","#03","#04","#05","#06","#07","#08","#09","#11","#13","#15","#17","#19","#21","#23","Y Pos."], "range": ["#ff0000","#993300","#ff6600","#ff9900","#ffcc00","#99cc00","#339966","#008000","#008080","#33cccc","#0000ff","#666699","#993366","#cc99ff","#ffcc99","#3366ff","#33cccc","#000000"]}, "legend": {"title": null, "orient": "none", "legendX": 197, "legendY": 177, "columns": 2, "direction": "horizontal", "strokeColor": "#000", "fillColor": "#fff", "padding": 2, "labelFont": "Liberation Serif", "labelFontSize": 11.5, "labelColor": "#000", "symbolSize": 14, "symbolOffset": 8, "labelOffset": 11, "columnPadding": 22, "rowPadding": 0}},
       "shape": {"field": "s", "type": "nominal", "scale": {"domain": ["#00","#01","#02","#03","#04","#05","#06","#07","#08","#09","#11","#13","#15","#17","#19","#21","#23","Y Pos."], "range": ["square","diamond","triangle-right","square","triangle-down","triangle-down","diamond","diamond","triangle-right","triangle-up","circle","triangle-right","diamond","circle","cross","M-0.9,-0.4H0.9V0.4H-0.9Z","M-1.7,-0.8H1.7V0.8H-1.7Z","M-5.6,-0.35H5.6V0.35H-5.6Z"]}, "legend": {"title": null, "orient": "none", "legendX": 197, "legendY": 177, "columns": 2, "direction": "horizontal", "strokeColor": "#000", "fillColor": "#fff", "padding": 2, "labelFont": "Liberation Serif", "labelFontSize": 11.5, "labelColor": "#000", "symbolSize": 14, "symbolOffset": 8, "labelOffset": 11, "columnPadding": 22, "rowPadding": 0}}
      }},
     {"data": {"values": [{"g": "s1", "t": 11773, "v": 0.0395}, {"g": "s1", "t": 4900, "v": 0.0148}]}, "mark": {"type": "line", "color": "#000", "strokeWidth": 1.8}, "encoding": {"detail": {"field": "g"}}},
     {"data": {"values": [{"t": 4900, "v": 0.0148}]}, "mark": {"type": "point", "shape": "M-1.6,-0.9L0,0L-1.6,0.9", "size": 225, "filled": false, "color": "#000", "strokeWidth": 1.8, "opacity": 1, "angle": 118}},
     {"data": {"values": [{"g": "l", "t": 29402, "v": 0.0172}, {"g": "l", "t": 29700, "v": 0.0192}, {"g": "l", "t": 30600, "v": 0.0194}, {"g": "l", "t": 37400, "v": 0.0194}, {"g": "l", "t": 38000, "v": 0.0197}, {"g": "l", "t": 38068, "v": 0.0213}, {"g": "r", "t": 38068, "v": 0.0213}, {"g": "r", "t": 38150, "v": 0.0197}, {"g": "r", "t": 38800, "v": 0.0194}, {"g": "r", "t": 45800, "v": 0.0194}, {"g": "r", "t": 46600, "v": 0.019}, {"g": "r", "t": 46733, "v": 0.0172}]}, "mark": {"type": "line", "interpolate": "basis", "color": "#222", "strokeWidth": 1.5}, "encoding": {"detail": {"field": "g"}}},
     {"data": {"values": [{"t": 30000, "v": 0.0436, "txt": "Slippage sensation in hardness distinction"}, {"t": 38964, "v": 0.0326, "txt": "Slippages respond against"}, {"t": 39860, "v": 0.025, "txt": "weight change"}]}, "mark": {"type": "text", "align": "center", "baseline": "middle"}, "encoding": {"text": {"field": "txt"}}},
     {"data": {"values": [{"t": -16478, "v": 0.0437, "txt": "(c)"}]}, "mark": {"type": "text", "align": "left", "baseline": "middle", "fontStyle": "normal", "fontSize": 18}, "encoding": {"text": {"field": "txt"}}}
    ]
   },
   {"data": {"name": "c_x"}, "mark": {"type": "line", "color": "#000", "strokeWidth": 1.2}, "encoding": {"y": {"field": "p", "type": "quantitative", "scale": {"domain": [-2, 12], "nice": false, "zero": false}, "axis": {"orient": "right", "values": [-2,0,2,4,6,8,10,12], "format": ".1f", "labelExpr": "replace(datum.label, '−', '-')", "title": "Fingertip Position,   y [mm]", "titleAngle": 270, "titleBaseline": "top", "tickSize": 5, "labelPadding": 4, "titlePadding": 11}}}}
  ],
  "resolve": {"scale": {"y": "independent"}}
 }
],
"resolve": {"scale": {"color": "independent", "shape": "independent", "stroke": "independent"}, "legend": {"color": "independent", "shape": "independent"}}
}
